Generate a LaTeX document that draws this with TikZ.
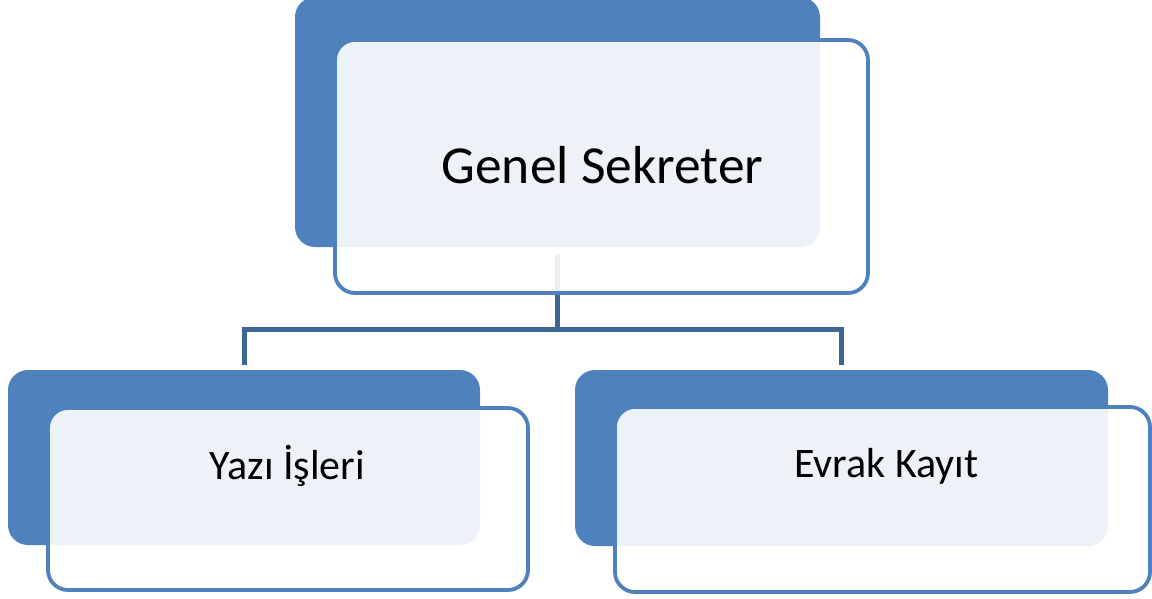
\documentclass[tikz,border=0pt]{standalone}
\usepackage{fontspec}
\setmainfont{Carlito}
\definecolor{boxblue}{RGB}{79,129,189}
\definecolor{connblue}{RGB}{61,102,150}
\begin{document}
\begin{tikzpicture}[x=1pt,y=-1pt,
  backbox/.style={draw=none,fill=boxblue,rounded corners=20pt,inner sep=0pt,outer sep=0pt},
  frontbox/.style={draw=boxblue,line width=3.8pt,fill=white,fill opacity=0.9,rounded corners=20pt,inner sep=0pt,outer sep=0pt},
  conn/.style={draw=connblue,line width=5pt},
  lbl/.style={text=black,inner sep=0pt,text opacity=1}]
\useasboundingbox (0,0) rectangle (1152,598);
% back boxes
\node[backbox,minimum width=525pt,minimum height=250pt] (gsback) at (557.5,122) {};
\node[backbox,minimum width=472pt,minimum height=175pt] (yazback) at (244,457.5) {};
\node[backbox,minimum width=533pt,minimum height=176pt] (evback) at (841.5,458) {};
% connectors
\draw[conn] ([yshift=-8pt]gsback.south) -- ++(0,74) -| ([yshift=5pt]yazback.north);
\draw[conn] ([yshift=-82pt]gsback.south) -| ([yshift=5pt]evback.north);
% front boxes
\node[frontbox,minimum width=533pt,minimum height=253pt] (gsfront) at (601.5,166.5) {};
\node[frontbox,minimum width=480pt,minimum height=182pt] (yazfront) at (288,499) {};
\node[frontbox,minimum width=535pt,minimum height=185pt] (evfront) at (882.5,499.5) {};
% labels
\node[lbl,font=\fontsize{53.5}{60}\selectfont] (gstext) at (602.5,165) {Genel Sekreter};
\node[lbl,font=\fontsize{42}{48}\selectfont] (yaztext) at (287.5,466) {Yazı İşleri};
\node[lbl,font=\fontsize{42}{48}\selectfont] (evtext) at (886.5,466) {Evrak Kayıt};
\end{tikzpicture}
\end{document}
